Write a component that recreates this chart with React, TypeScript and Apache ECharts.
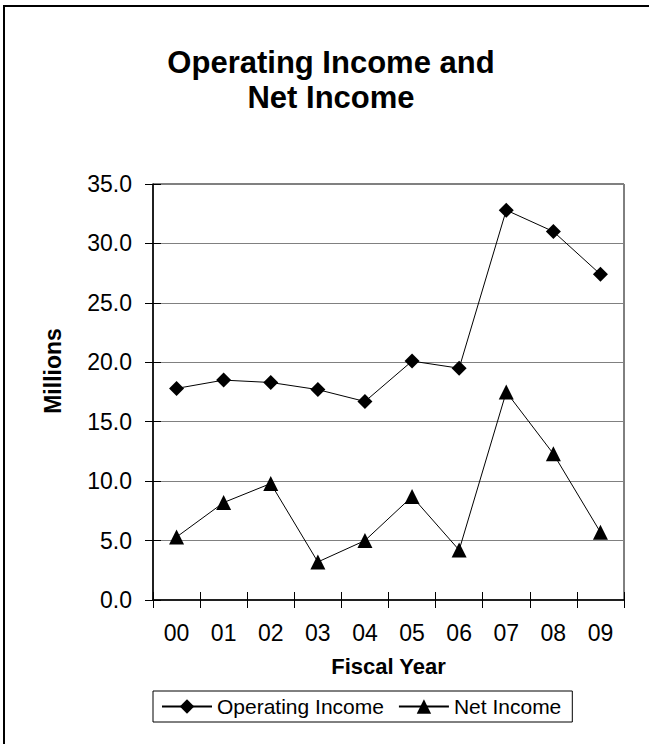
import React, { useEffect, useRef } from "react";
import * as echarts from "echarts";

const categories = ["00", "01", "02", "03", "04", "05", "06", "07", "08", "09"];
const operatingIncome = [17.8, 18.5, 18.3, 17.7, 16.7, 20.1, 19.5, 32.8, 31.0, 27.4];
const netIncome = [5.3, 8.2, 9.8, 3.2, 5.0, 8.7, 4.2, 17.5, 12.3, 5.7];
const yMin = 0;
const yMax = 35;
const yStep = 5;

const FONT = "'Liberation Sans', Arial, sans-serif";

export default function App() {
  const ref = useRef<HTMLDivElement>(null);
  useEffect(() => {
    document.body.style.margin = "0";
    if (!ref.current) return;
    const chart = echarts.init(ref.current, undefined, { renderer: "svg" });
    const grid = { left: 153, top: 184, width: 471, height: 416 };
    chart.setOption({
      animation: false,
      backgroundColor: "#fff",
      textStyle: { fontFamily: FONT, color: "#000" },
      title: {
        text: "Operating Income and\nNet Income",
        left: 326,
        top: 40,
        textAlign: "center",
        textStyle: { fontFamily: FONT, fontSize: 31, fontWeight: "bold", color: "#000", lineHeight: 35 },
      },
      graphic: [
        {
          type: "rect",
          shape: { x: 4, y: 6, width: 700, height: 800 },
          style: { fill: "none", stroke: "#000", lineWidth: 2 },
          z: -10,
          silent: true,
        },
      ],
      grid: { ...grid, show: true, borderColor: "#000", borderWidth: 1, backgroundColor: "transparent" },
      legend: {
        left: 153,
        top: 691,
        orient: "horizontal",
        itemWidth: 50,
        itemHeight: 18,
        itemGap: 14,
        padding: [5, 11, 5, 8],
        borderColor: "#000",
        borderWidth: 1,
        textStyle: { fontFamily: FONT, fontSize: 21, color: "#000" },
        data: ["Operating Income", "Net Income"],
      },
      xAxis: [
        {
          type: "category",
          data: categories,
          boundaryGap: true,
          position: "bottom",
          axisLine: { show: true, lineStyle: { color: "#000", width: 1.5 } },
          axisTick: { show: true, interval: 0, alignWithLabel: false, length: 8, inside: false, lineStyle: { color: "#000", width: 1 } },
          axisLabel: { interval: 0, margin: 21, fontFamily: FONT, fontSize: 23, color: "#000" },
          splitLine: { show: false },
          name: "Fiscal Year",
          nameLocation: "middle",
          nameGap: 55,
          nameTextStyle: { fontFamily: FONT, fontSize: 22, fontWeight: "bold", color: "#000" },
        },
        {
          type: "category",
          data: categories,
          boundaryGap: true,
          position: "bottom",
          axisLine: { show: false },
          axisTick: { show: true, interval: 0, alignWithLabel: false, length: 8, inside: true, lineStyle: { color: "#000", width: 1 } },
          axisLabel: { show: false },
          splitLine: { show: false },
        },
      ],
      yAxis: [
        {
          type: "value",
          min: yMin,
          max: yMax,
          interval: yStep,
          axisLine: { show: true, lineStyle: { color: "#000", width: 1.5 } },
          axisTick: { show: true, length: 8, inside: false, lineStyle: { color: "#000", width: 1 } },
          axisLabel: { margin: 21, fontFamily: FONT, fontSize: 23, color: "#000", formatter: (v: number) => v.toFixed(1) },
          splitLine: { show: true, lineStyle: { color: "#808080", width: 1 } },
          name: "Millions",
          nameLocation: "middle",
          nameGap: 89,
          nameTextStyle: { fontFamily: FONT, fontSize: 23, fontWeight: "bold", color: "#000", padding: [0, 0, 0, 42] },
        },
        {
          type: "value",
          min: yMin,
          max: yMax,
          interval: yStep,
          position: "left",
          axisLine: { show: false },
          axisTick: { show: true, length: 8, inside: true, lineStyle: { color: "#000", width: 1 } },
          axisLabel: { show: false },
          splitLine: { show: false },
        },
      ],
      series: [
        {
          name: "Operating Income",
          type: "line",
          data: operatingIncome,
          symbol: "diamond",
          symbolSize: 15,
          itemStyle: { color: "#000" },
          lineStyle: { color: "#000", width: 1 },
        },
        {
          name: "Net Income",
          type: "line",
          data: netIncome,
          symbol: "triangle",
          symbolSize: 15,
          itemStyle: { color: "#000" },
          lineStyle: { color: "#000", width: 1 },
        },
      ],
    });
    return () => chart.dispose();
  }, []);
  return <div ref={ref} style={{ width: 649, height: 744 }} />;
}
